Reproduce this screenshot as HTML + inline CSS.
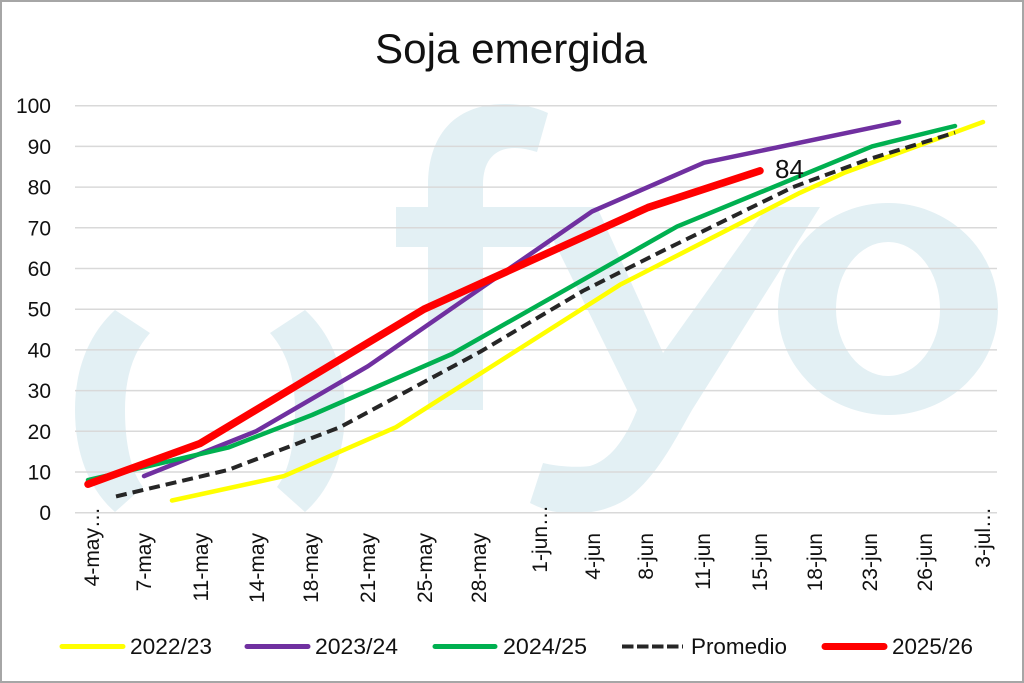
<!DOCTYPE html>
<html>
<head>
<meta charset="utf-8">
<style>
  html,body{margin:0;padding:0;background:#fff;}
  svg{display:block;}
  text{font-family:"Liberation Sans", Arial, sans-serif;fill:#111;}
</style>
</head>
<body>
<svg width="1024" height="683" viewBox="0 0 1024 683" xmlns="http://www.w3.org/2000/svg">
  <rect x="0" y="0" width="1024" height="683" fill="#fff"/>

  <!-- watermark -->
  <g fill="#e3f0f4">
    <path d="M115,310 C88,335 75,370 75,410 C75,455 90,490 115,512 L143,487 C130,470 125,440 125,410 C125,378 133,352 150,333 Z"/>
    <path d="M305,310 C332,335 345,370 345,410 C345,455 330,490 305,512 L277,487 C290,470 295,440 295,410 C295,378 287,352 270,333 Z"/>
    <path d="M428,410 L483,410 L483,247 L550,247 L550,207 L483,207 L483,185 C483,160 495,148 515,148 C523,148 530,150 537,152 L548,113 C535,107 520,104 505,104 C455,104 428,135 428,185 L428,207 L396,207 L396,247 L428,247 Z"/>
    <path d="M537,207 L597,207 L663,353 L767,207 L820,207 L692,410 C675,440 655,480 625,500 C605,512 585,514 565,513 C550,512 540,508 530,503 L543,463 C555,466 575,468 590,466 C610,460 625,440 637,410 Z"/>
    <path fill-rule="evenodd" d="M778,309 A110,106 0 1,0 998,309 A110,106 0 1,0 778,309 Z M836,309 A52,67 0 1,0 940,309 A52,67 0 1,0 836,309 Z"/>
  </g>

  <!-- gridlines -->
  <g stroke="#d9d9d9" stroke-width="1.5">
    <line x1="75" y1="512.7" x2="997" y2="512.7"/>
    <line x1="75" y1="472" x2="997" y2="472"/>
    <line x1="75" y1="431.3" x2="997" y2="431.3"/>
    <line x1="75" y1="390.6" x2="997" y2="390.6"/>
    <line x1="75" y1="349.9" x2="997" y2="349.9"/>
    <line x1="75" y1="309.2" x2="997" y2="309.2"/>
    <line x1="75" y1="268.5" x2="997" y2="268.5"/>
    <line x1="75" y1="227.8" x2="997" y2="227.8"/>
    <line x1="75" y1="187.1" x2="997" y2="187.1"/>
    <line x1="75" y1="146.4" x2="997" y2="146.4"/>
    <line x1="75" y1="105.7" x2="997" y2="105.7"/>
  </g>

  <!-- title -->
  <text x="375" y="63" font-size="42" textLength="272" lengthAdjust="spacingAndGlyphs">Soja emergida</text>

  <!-- y labels -->
  <g font-size="21" text-anchor="end">
    <text x="51" y="520.2">0</text>
    <text x="51" y="479.5">10</text>
    <text x="51" y="438.8">20</text>
    <text x="51" y="398.1">30</text>
    <text x="51" y="357.4">40</text>
    <text x="51" y="316.7">50</text>
    <text x="51" y="276">60</text>
    <text x="51" y="235.3">70</text>
    <text x="51" y="194.6">80</text>
    <text x="51" y="153.9">90</text>
    <text x="51" y="113.2">100</text>
  </g>

  <!-- x labels -->
  <g font-size="21" text-anchor="end">
    <text transform="translate(99,507) rotate(-90)">4-may…</text>
    <text transform="translate(151,533) rotate(-90)">7-may</text>
    <text transform="translate(208,533) rotate(-90)">11-may</text>
    <text transform="translate(264,533) rotate(-90)">14-may</text>
    <text transform="translate(318,533) rotate(-90)">18-may</text>
    <text transform="translate(375,533) rotate(-90)">21-may</text>
    <text transform="translate(432,533) rotate(-90)">25-may</text>
    <text transform="translate(486,533) rotate(-90)">28-may</text>
    <text transform="translate(547,505) rotate(-90)">1-jun…</text>
    <text transform="translate(600,533) rotate(-90)">4-jun</text>
    <text transform="translate(653,533) rotate(-90)">8-jun</text>
    <text transform="translate(710,533) rotate(-90)">11-jun</text>
    <text transform="translate(767,533) rotate(-90)">15-jun</text>
    <text transform="translate(822,533) rotate(-90)">18-jun</text>
    <text transform="translate(877,533) rotate(-90)">23-jun</text>
    <text transform="translate(932,533) rotate(-90)">26-jun</text>
    <text transform="translate(990,507) rotate(-90)">3-jul…</text>
  </g>

  <!-- series -->
  <g fill="none" stroke-linejoin="round" stroke-linecap="round">
    <polyline stroke="#ffff00" stroke-width="4.5" points="172,500.5 284,476.1 396,427.2 620,284.8 800,192.8 844,172.9 983,122"/>
    <polyline stroke="#7030a0" stroke-width="4.5" points="144,476.1 256,431.3 368,366.2 592,211.5 704,162.7 899,122"/>
    <polyline stroke="#00b050" stroke-width="4.5" points="88,480.1 228,447.6 312,415 452,354 677,226.6 872,146.4 955,126"/>
    <polyline stroke="#262626" stroke-width="4" stroke-linecap="butt" stroke-dasharray="11 6" points="116,496.4 228,470 340,427.2 480,351.9 583,290.9 660,252.2 793,187.1 867,159.8 955,132.6"/>
    <polyline stroke="#ff0000" stroke-width="7.5" points="88,484.2 200,443.5 424,309.2 648,207.5 760,170.8"/>
  </g>

  <!-- data label -->
  <text x="775" y="178" font-size="26" fill="#000">84</text>

  <!-- legend -->
  <g stroke-linecap="round" fill="none">
    <line x1="62" y1="646.5" x2="123" y2="646.5" stroke="#ffff00" stroke-width="5"/>
    <line x1="247" y1="646.5" x2="308" y2="646.5" stroke="#7030a0" stroke-width="5"/>
    <line x1="435" y1="646.5" x2="495" y2="646.5" stroke="#00b050" stroke-width="5"/>
    <line x1="622" y1="646.5" x2="683" y2="646.5" stroke="#262626" stroke-width="4" stroke-linecap="butt" stroke-dasharray="11.5 3.5"/>
    <line x1="825" y1="646.5" x2="884" y2="646.5" stroke="#ff0000" stroke-width="7"/>
  </g>
  <g font-size="22.5">
    <text x="130" y="654" textLength="82" lengthAdjust="spacingAndGlyphs">2022/23</text>
    <text x="315" y="654" textLength="83" lengthAdjust="spacingAndGlyphs">2023/24</text>
    <text x="503" y="654" textLength="84" lengthAdjust="spacingAndGlyphs">2024/25</text>
    <text x="691" y="654" textLength="96" lengthAdjust="spacingAndGlyphs">Promedio</text>
    <text x="892" y="654" textLength="81" lengthAdjust="spacingAndGlyphs">2025/26</text>
  </g>

  <!-- frame -->
  <rect x="1" y="1" width="1022" height="681" fill="none" stroke="#a6a6a6" stroke-width="2"/>
</svg>
</body>
</html>
